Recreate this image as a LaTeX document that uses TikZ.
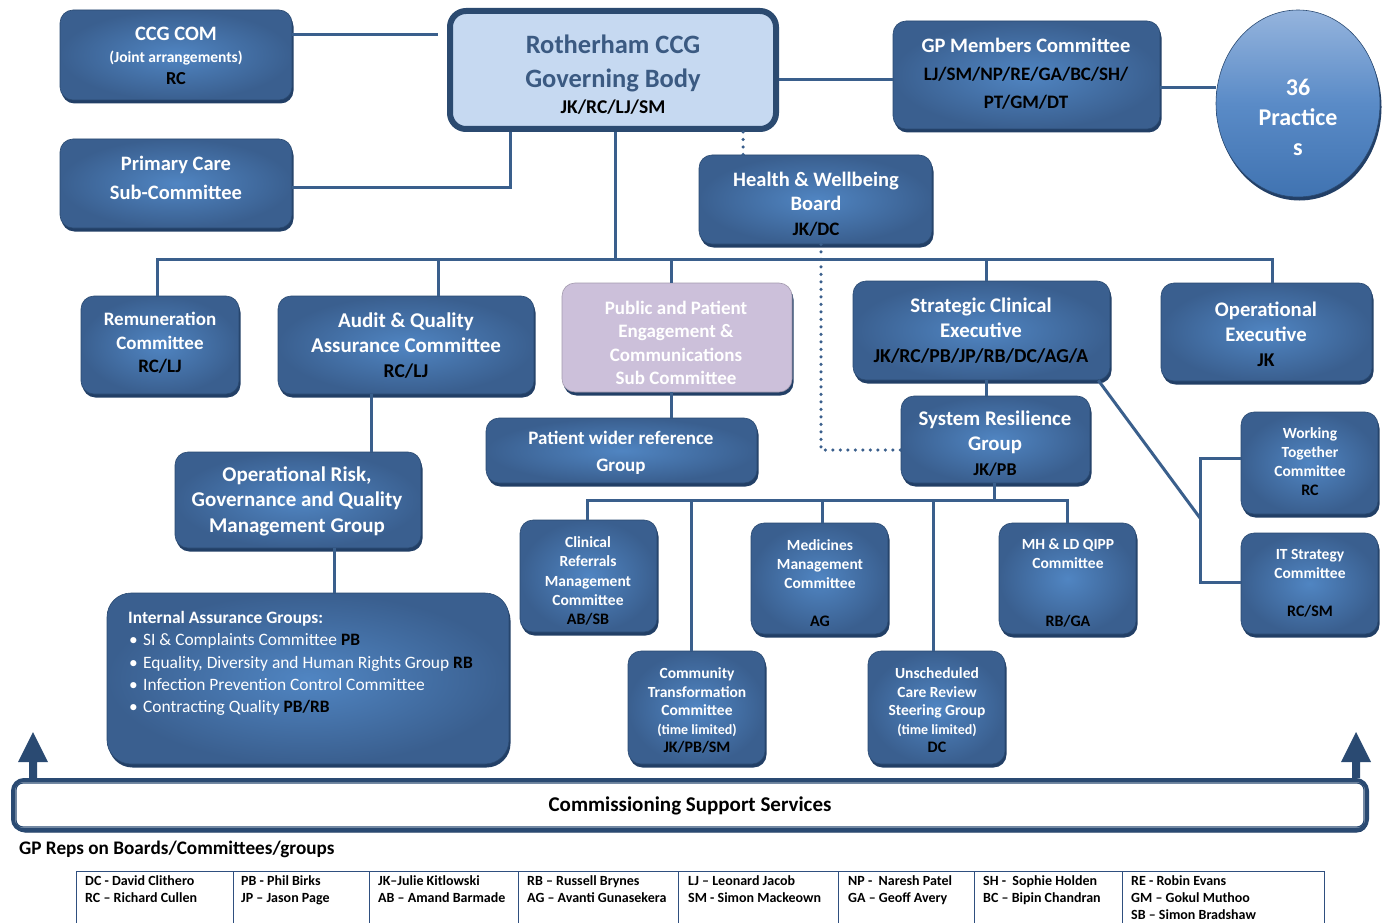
\documentclass[tikz,border=0pt]{standalone}
\usepackage{fontspec}
\setmainfont{Carlito}
\usetikzlibrary{shapes.geometric,shadows,calc}
\definecolor{bedge}{HTML}{3A5F8F}
\definecolor{bmid}{HTML}{5085C2}
\definecolor{bline}{HTML}{2A4A72}
\definecolor{bshadow}{HTML}{223F66}
\definecolor{lc}{HTML}{3A5F8C}
\definecolor{gbfill}{HTML}{C6D9F1}
\definecolor{gbline}{HTML}{2B4A70}
\definecolor{gbtext}{HTML}{3B5A82}
\definecolor{ppefill}{HTML}{CCC0DA}
\definecolor{tline}{HTML}{2F4F7F}
\definecolor{circtop}{HTML}{95B4DD}
\definecolor{circmid}{HTML}{5A8BC7}
\definecolor{circbot}{HTML}{4073B1}
\newcommand{\fs}[2]{\fontsize{#1}{#2}\selectfont}
\newcommand{\ini}[1]{{\color{black}#1}}
\begin{document}
\begin{tikzpicture}[x=1pt,y=-1pt,
  shad/.style={drop shadow={shadow xshift=1.5pt,shadow yshift=-3.5pt,fill=bshadow,opacity=1}},
  box/.style={rectangle,rounded corners=13pt,inner color=bmid,outer color=bedge,draw=bline,line width=0.6pt,inner sep=0pt,shad},
  tx/.style={text=white,align=center,inner sep=0pt},
  conn/.style={draw=lc,line width=3pt},
  dotc/.style={draw=lc,line width=3.5pt,line cap=round,dash pattern=on 0pt off 7.5pt},
  cell/.style={anchor=north west,align=left,inner sep=0pt,font=\bfseries\fs{14}{17}},
  tl/.style={draw=tline,line width=1pt}]
\useasboundingbox (0,0) rectangle (1384,923);
\fill[white] (0,0) rectangle (1384,923);

% ---------- boxes ----------
\node[box,minimum width=232,minimum height=90] (ccg) at (176,55) {};
\node[box,minimum width=232,minimum height=89] (pc) at (176,183.5) {};
\node[rectangle,rounded corners=16pt,fill=gbfill,draw=gbline,line width=6pt,minimum width=326,minimum height=118,inner sep=0pt] (gb) at (613,70) {};
\node[box,minimum width=267,minimum height=108] (gp) at (1026.5,75) {};
\node[ellipse,minimum width=164,minimum height=187,inner sep=0pt,top color=circtop,bottom color=circbot,middle color=circmid,draw=bline,line width=0.6pt,shad] (prac) at (1298,103.5) {};
\node[box,minimum width=233,minimum height=89] (hw) at (815.5,199.5) {};
\node[box,minimum width=158,minimum height=98] (rem) at (160,345) {};
\node[box,minimum width=256,minimum height=98] (aud) at (406,345) {};
\node[rectangle,rounded corners=13pt,fill=ppefill,draw=ppefill!80!black,line width=0.6pt,inner sep=0pt,shad,minimum width=230,minimum height=109] (ppe) at (677,337.5) {};
\node[box,minimum width=257,minimum height=99] (sce) at (981.5,330.5) {};
\node[box,minimum width=211,minimum height=98] (opx) at (1266.5,332) {};
\node[box,minimum width=271,minimum height=65] (pwr) at (621.5,450.5) {};
\node[box,minimum width=189,minimum height=87] (srg) at (995.5,439.5) {};
\node[box,minimum width=246,minimum height=96] (orisk) at (298,500) {};
\node[box,rounded corners=24pt,minimum width=402,minimum height=171] (iag) at (308,678.5) {};
\node[box,minimum width=137,minimum height=112] (crm) at (588.5,576) {};
\node[box,minimum width=137,minimum height=111] (med) at (819.5,578.5) {};
\node[box,minimum width=137,minimum height=111] (mh) at (1067.5,578.5) {};
\node[box,minimum width=137,minimum height=113] (ctc) at (696.5,707.5) {};
\node[box,minimum width=137,minimum height=113] (ucr) at (936.5,707.5) {};
\node[box,minimum width=137,minimum height=102] (wt) at (1309.5,463) {};
\node[box,minimum width=137,minimum height=101] (its) at (1309.5,583.5) {};

% ---------- texts ----------
\node[tx,font=\bfseries\fs{20.5}{22}] (ccgT) at (176,56) {CCG COM\\{\fs{15.5}{22}(Joint arrangements)}\\{\fs{18.3}{22}\ini{RC}}};
\node[tx,font=\bfseries\fs{20.5}{28.5}] (pcT) at (176,178) {Primary Care\\Sub-Committee};
\node[tx,text=gbtext,font=\bfseries\fs{26.5}{34}] (gbT) at (613,75) {Rotherham CCG\\Governing Body\\[-8pt]{\fs{19.5}{34}\ini{JK/RC/LJ/SM}}};
\node[tx,font=\bfseries\fs{20.5}{28}] (gpT) at (1026,74) {GP Members Committee\\{\fs{19}{28}\ini{LJ/SM/NP/RE/GA/BC/SH/}}\\{\fs{19}{28}\ini{PT/GM/DT}}};
\node[tx,font=\bfseries\fs{24}{30}] (pracT) at (1298,117) {36\\Practice\\s};
\node[tx,font=\bfseries\fs{20.5}{24.5}] (hwT) at (816,204) {Health \& Wellbeing\\Board\\{\fs{19}{24.5}\ini{JK/DC}}};
\node[tx,font=\bfseries\fs{19}{23.5}] (remT) at (160,343) {Remuneration\\Committee\\\ini{RC/LJ}};
\node[tx,font=\bfseries\fs{21}{25}] (audT) at (406,346) {Audit \& Quality\\Assurance Committee\\{\fs{19.5}{25}\ini{RC/LJ}}};
\node[tx,font=\bfseries\fs{19}{23.3}] (ppeT) at (676,343) {Public and Patient\\Engagement \&\\Communications\\Sub Committee};
\node[tx,font=\bfseries\fs{20.8}{25}] (sceT) at (981,331) {Strategic Clinical\\Executive\\{\fs{19.7}{25}\ini{JK/RC/PB/JP/RB/DC/AG/A}}};
\node[tx,font=\bfseries\fs{20.7}{25}] (opxT) at (1266,334) {Operational\\Executive\\{\fs{19.5}{25}\ini{JK}}};
\node[tx,font=\bfseries\fs{19}{27}] (pwrT) at (621,453) {Patient wider reference\\Group};
\node[tx,font=\bfseries\fs{20.8}{25}] (srgT) at (995,444) {System Resilience\\Group\\{\fs{18}{25}\ini{JK/PB}}};
\node[tx,font=\bfseries\fs{21}{25.5}] (oriskT) at (297,501) {Operational Risk,\\Governance and Quality\\Management Group};
\node[tx,font=\bfseries\fs{15.5}{19.25}] (crmT) at (588,581) {Clinical\\Referrals\\Management\\Committee\\{\fs{16}{19.25}\ini{AB/SB}}};
\node[tx,font=\bfseries\fs{15.5}{19.25}] (medT) at (820,583) {Medicines\\Management\\Committee\\[19pt]{\fs{16}{19.25}\ini{AG}}};
\node[tx,font=\bfseries\fs{15.5}{19.25}] (mhT) at (1068,583) {MH \& LD QIPP\\Committee\\[38.5pt]{\fs{16}{19.25}\ini{RB/GA}}};
\node[tx,font=\bfseries\fs{15.5}{18.5}] (ctcT) at (697,710.5) {Community\\Transformation\\Committee\\{\fs{14}{18.5}(time limited)}\\{\fs{16}{18.5}\ini{JK/PB/SM}}};
\node[tx,font=\bfseries\fs{15.5}{18.5}] (ucrT) at (937,710.5) {Unscheduled\\Care Review\\Steering Group\\{\fs{14}{18.5}(time limited)}\\{\fs{16}{18.5}\ini{DC}}};
\node[tx,font=\bfseries\fs{15.5}{19}] (wtT) at (1310,462) {Working\\Together\\Committee\\{\fs{16}{19}\ini{RC}}};
\node[tx,font=\bfseries\fs{15.5}{19}] (itsT) at (1310,583) {IT Strategy\\Committee\\[19pt]{\fs{16}{19}\ini{RC/SM}}};
\node[anchor=north west,align=left,inner sep=0pt,text=white,font=\fs{17.4}{22.3}] (iagT) at (128,611)
 {\textbf{Internal Assurance Groups:}\\
  \hspace*{1pt}\makebox[14pt][l]{\textbullet}SI \& Complaints Committee \textbf{\ini{PB}}\\
  \hspace*{1pt}\makebox[14pt][l]{\textbullet}Equality, Diversity and Human Rights Group \textbf{\ini{RB}}\\
  \hspace*{1pt}\makebox[14pt][l]{\textbullet}Infection Prevention Control Committee\\
  \hspace*{1pt}\makebox[14pt][l]{\textbullet}Contracting Quality \textbf{\ini{PB/RB}}};

% ---------- connectors ----------
\coordinate (gbL) at (438,35);
\draw[conn] (ccg.east |- 0,35) -- (gbL);
\draw[conn] (pc.east |- 0,187) -- (510,187) -- (gb.south -| 510,0);
\draw[conn] (gb.east |- 0,80) -- (gp.west |- 0,80);
\draw[conn] (gp.east |- 0,88) -- (prac.west |- 0,88);
\draw[dotc] (gb.south -| 743,0) -- (hw.north -| 743,0);
\coordinate (busC) at (615,259);
\draw[conn] (gb.south -| 615,0) -- (busC);
\draw[conn] (rem.north -| 157,0) -- (157,259) -- (1272,259) -- (opx.north -| 1272,0);
\draw[conn] (aud.north -| 438,0) -- (438,259);
\draw[conn] (ppe.north -| 671,0) -- (671,259);
\draw[conn] (sce.north -| 986,0) -- (986,259);
\draw[conn] (ppe.south -| 671,0) -- (pwr.north -| 671,0);
\draw[conn] (aud.south -| 371,0) -- (orisk.north -| 371,0);
\draw[conn] (orisk.south -| 334,0) -- (iag.north -| 334,0);
\draw[conn] (sce.south -| 986,0) -- (srg.north -| 986,0);
\draw[dotc] (hw.south -| 821,0) -- (821,450) -- (srg.west |- 0,450);
\coordinate (brk) at (1200,518);
\draw[conn] ([xshift=-12pt]sce.south east) -- (brk);
\draw[conn] (wt.west |- 0,458) -- (1200,458) -- (1200,582) -- (its.west |- 0,582);
\draw[conn] (srg.south -| 994,0) -- (994,500);
\draw[conn] (crm.north -| 587,0) -- (587,500) -- (1067,500) -- (mh.north -| 1067,0);
\draw[conn] (691,500) -- (ctc.north -| 691,0);
\draw[conn] (822,500) -- (med.north -| 822,0);
\draw[conn] (933,500) -- (ucr.north -| 933,0);

% ---------- commissioning support bar ----------
\node[rectangle,rounded corners=11pt,draw=bline,line width=4pt,fill=white,minimum width=1354,minimum height=50,inner sep=0pt,
  drop shadow={shadow xshift=1pt,shadow yshift=-2.5pt,fill=bshadow,opacity=1}] (css) at (690,805) {};
\draw[draw=bline,line width=1.2pt,rounded corners=7pt] ([shift={(5,5)}]css.north west) rectangle ([shift={(-5,-5)}]css.south east);
\node[inner sep=0pt,font=\bfseries\fs{21}{24}] (cssT) at (690,806) {Commissioning Support Services};
\fill[bline] (29,778) -- (29,762) -- (18,762) -- (33,732) -- (48,762) -- (37,762) -- (37,778) -- cycle;
\fill[bline] (1352,778) -- (1352,762) -- (1341,762) -- (1356,732) -- (1371,762) -- (1360,762) -- (1360,778) -- cycle;

% ---------- legend ----------
\node[anchor=west,inner sep=0pt,font=\bfseries\fs{19.2}{22}] (repsT) at (19,849) {GP Reps on Boards/Committees/groups};
\draw[tl] (76,923) -- (76,871) -- (1324,871) -- (1324,923);
\foreach \xx in {233,369,518,678,838,974,1122} {\draw[tl] (\xx,871) -- (\xx,923);}
\node[cell] (t1) at (85,875.5) {DC - David Clithero\\RC – Richard Cullen};
\node[cell] (t2) at (241,875.5) {PB - Phil Birks\\JP – Jason Page};
\node[cell] (t3) at (378,875.5) {JK–Julie Kitlowski\\AB – Amand Barmade};
\node[cell] (t4) at (527,875.5) {RB – Russell Brynes\\AG – Avanti Gunasekera};
\node[cell] (t5) at (688,875.5) {LJ – Leonard Jacob\\SM - Simon Mackeown};
\node[cell] (t6) at (848,875.5) {NP -\ \ Naresh Patel\\GA – Geoff Avery};
\node[cell] (t7) at (983,875.5) {SH -\ \ Sophie Holden\\BC – Bipin Chandran};
\node[cell] (t8) at (1131,875.5) {RE - Robin Evans\\GM – Gokul Muthoo\\SB – Simon Bradshaw};
\end{tikzpicture}
\end{document}
